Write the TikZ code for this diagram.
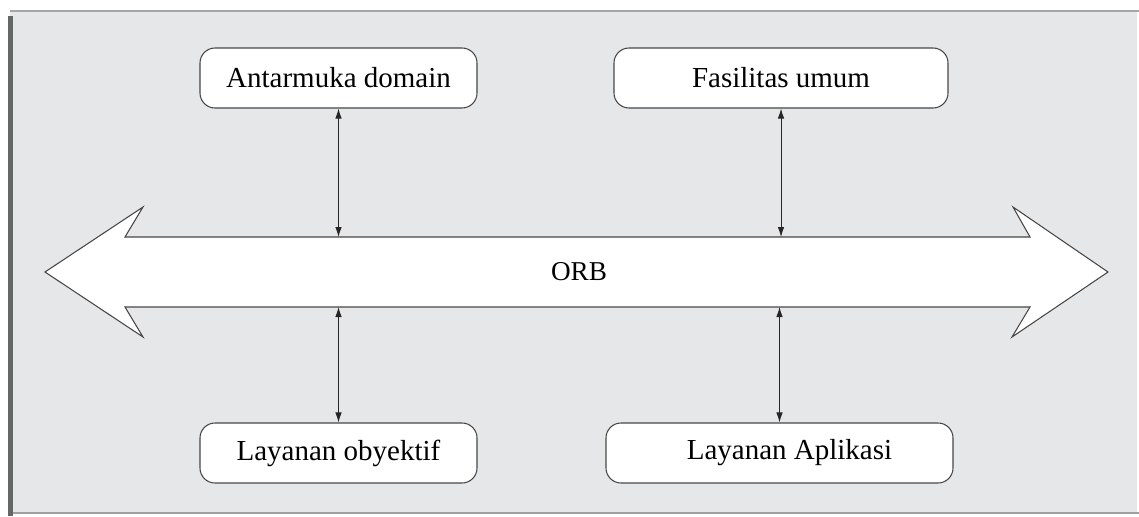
\documentclass[tikz,border=0pt]{standalone}
\usepackage{fontspec}
\setmainfont{Liberation Serif}
\usepackage{xcolor}
\usepackage{tikz}
\usetikzlibrary{arrows.meta, positioning, calc}
\definecolor{panelgray}{RGB}{230, 231, 233}
\definecolor{edgegray}{RGB}{70, 70, 70}

\begin{document}
\begin{tikzpicture}[
  every node/.style={font=\fontsize{16.5}{19}\selectfont},
  box/.style={draw=edgegray, fill=white, rounded corners=0.3cm, minimum width=5.54cm, minimum height=1.2cm, inner sep=4pt, line width=0.6pt},
  arrow/.style={{Latex[length=2mm, width=1.3mm]}-{Latex[length=2mm, width=1.3mm]}, line width=0.5pt, color=black!85},
  bus/.style={draw=edgegray, fill=white, line width=0.6pt}
]
  \useasboundingbox (0, 0) rectangle (22.78, 10.32);

  % Latar
  \fill[panelgray] (0.2, 0.06) rectangle (22.74, 10.1);
  \draw[gray!70, line width=1.2pt] (0.2, 10.1) -- (22.78, 10.1);
  \draw[gray!75, line width=1.2pt] (0.2, 0.06) -- (22.78, 0.06);
  \draw[black!60, line width=2.6pt] (0.21, 0) -- (0.21, 10.0);

  % ORB
  \draw[bus] (0.9, 4.88) -- (2.86, 6.18) -- (2.5, 5.58) -- (20.6, 5.58) -- (20.26, 6.18)
    -- (22.16, 4.88) -- (20.24, 3.58) -- (20.6, 4.18) -- (2.5, 4.18) -- (2.86, 3.58) -- cycle;
  \node[font=\fontsize{15.5}{18}\selectfont] (orb) at (11.58, 4.88) {ORB};
  \coordinate (bustop) at (11.58, 5.58);
  \coordinate (busbot) at (11.58, 4.18);

  % Layanan
  \node[box] (dom) at (6.77, 8.76) {Antarmuka domain};
  \node[box, minimum width=6.68cm] (fas) at (15.62, 8.76) {Fasilitas umum};
  \node[box] (oby) at (6.77, 1.26) {Layanan obyektif};
  \node[box, minimum width=6.94cm] (apl) at (15.59, 1.26) {\hspace{0.4cm}Layanan Aplikasi};

  \draw[arrow] (dom.south) -- (dom.south |- bustop);
  \draw[arrow] (fas.south) -- (fas.south |- bustop);
  \draw[arrow] (oby.north |- busbot) -- (oby.north);
  \draw[arrow] (apl.north |- busbot) -- (apl.north);

\end{tikzpicture}
\end{document}
